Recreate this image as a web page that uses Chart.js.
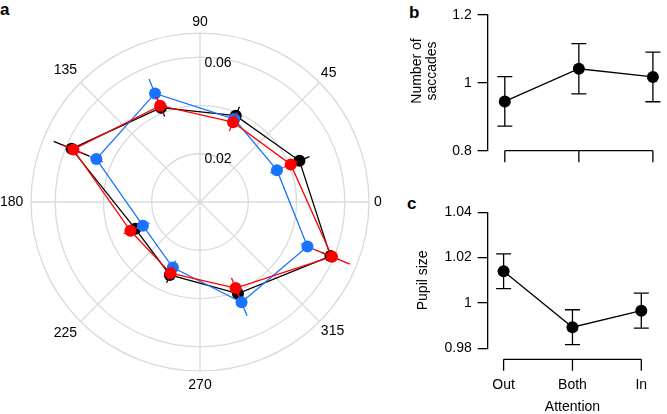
<!DOCTYPE html>
<html>
<head>
<meta charset="utf-8">
<script src="https://cdn.jsdelivr.net/npm/chart.js@4/dist/chart.umd.min.js"></script>
<style>
  html, body { margin: 0; padding: 0; background: #fff; overflow: hidden; }
  body { width: 667px; height: 414px; position: relative; font-family: 'Liberation Sans', Arial, sans-serif; }
  .letter { position: absolute; font-weight: bold; font-size: 17px; line-height: 17px; color: #000; }
  canvas { position: absolute; }
</style>
</head>
<body>
<div class="letter" style="left:0px;top:1px">a</div>
<div class="letter" style="left:409px;top:4px">b</div>
<div class="letter" style="left:407px;top:195px">c</div>

<canvas id="polar" width="400" height="404" style="left:-9px;top:2px"></canvas>
<canvas id="saccades" width="276" height="175" style="left:400px;top:0px"></canvas>
<canvas id="pupil" width="276" height="219" style="left:400px;top:195px"></canvas>

<script>
/* ── Data ─────────────────────────────────────────────── */

// panel a: saccade direction distribution (polar)
const ANGLE_TICKS = [0, 45, 90, 135, 180, 225, 270, 315];
const DIRECTIONS = [22.5, 67.5, 112.5, 157.5, 202.5, 247.5, 292.5, 337.5];
const RING_TICKS = [0, 0.02, 0.04, 0.06, 0.07];
const RING_LABELS = [0.02, 0.06];

const BLACK = [0.0446, 0.0387, 0.0423, 0.0576, 0.0290, 0.0327, 0.0411, 0.0585];
const BLACK_ERR = [0.0045, 0.004, 0.004, 0.008, 0.003, 0.0035, 0.004, 0.004];
const BLUE = [0.0345, 0.0372, 0.0487, 0.0465, 0.0256, 0.0294, 0.0450, 0.0482];
const BLUE_ERR = [0.003, 0.003, 0.0065, 0.003, 0.003, 0.003, 0.006, 0.003];
const RED = [0.0407, 0.0358, 0.0432, 0.0568, 0.0312, 0.0319, 0.0386, 0.0592];
const RED_ERR = [0.003, 0.004, 0.004, 0.005, 0.003, 0.003, 0.0045, 0.008];

// panels b and c
const CONDITIONS = ['Out', 'Both', 'In'];
const SACCADES = [0.945, 1.041, 1.017];
const SACCADES_ERR = [0.073, 0.074, 0.073];
const SACCADE_TICKS = [0.8, 1, 1.2];
const PUPIL = [1.014, 0.9893, 0.9966];
const PUPIL_ERR = [0.0077, 0.0077, 0.0077];
const PUPIL_TICKS = [0.98, 1, 1.02, 1.04];

/* ── Shared style ─────────────────────────────────────── */

const FONT = "'Liberation Sans', Arial, sans-serif";
const FS = 14;
Chart.defaults.font.family = FONT;
Chart.defaults.font.size = FS;
Chart.defaults.color = '#000';

const GRID = '#dadada';
const LW = 1.3;

/* ── Panel a: polar plot on a 16-slot radar ───────────── */

// ticks sit every 45 deg, data every 45 deg offset by 22.5 -> 16 slots, clockwise from 0
const SLOTS = 16;
const slotOf = a => Math.round(((360 - a) % 360) / 22.5) % SLOTS;
const slotLabels = Array(SLOTS).fill('');
ANGLE_TICKS.forEach(a => { slotLabels[slotOf(a)] = String(a); });

function toSlots(values) {
  const arr = Array(SLOTS).fill(null);
  DIRECTIONS.forEach((a, i) => { arr[slotOf(a)] = values[i]; });
  return arr;
}

const LABEL_PAD = { '0': 5, '45': 2, '90': 2.1, '135': 5, '180': 7.7, '225': 5, '270': 5.6, '315': 2 };

function polarSeries(values, errors, color, order) {
  return {
    data: toSlots(values),
    errors: toSlots(errors),
    borderColor: color,
    backgroundColor: color,
    pointBackgroundColor: color,
    pointBorderWidth: 0,
    pointRadius: 6,
    pointHoverRadius: 6,
    borderWidth: LW,
    spanGaps: true,
    fill: false,
    order
  };
}

const polarErrorBars = {
  id: 'polarErrorBars',
  afterDatasetDraw(chart, args) {
    const ds = chart.data.datasets[args.index];
    const scale = chart.scales.r;
    const ctx = chart.ctx;
    ctx.save();
    ctx.strokeStyle = ds.borderColor;
    ctx.lineWidth = LW;
    ds.data.forEach((v, i) => {
      if (v == null) return;
      const e = ds.errors[i];
      const p0 = scale.getPointPositionForValue(i, v - e);
      const p1 = scale.getPointPositionForValue(i, v + e);
      ctx.beginPath();
      ctx.moveTo(p0.x, p0.y);
      ctx.lineTo(p1.x, p1.y);
      ctx.stroke();
    });
    ctx.restore();
  }
};

// ring value labels sit just right of the 90 deg spoke
const ringLabels = {
  id: 'ringLabels',
  beforeDatasetsDraw(chart) {
    const s = chart.scales.r;
    const ctx = chart.ctx;
    ctx.save();
    ctx.font = FS + 'px ' + FONT;
    ctx.fillStyle = '#000';
    ctx.textAlign = 'center';
    ctx.textBaseline = 'middle';
    RING_LABELS.forEach(v => {
      const r = s.getDistanceFromCenterForValue(v);
      ctx.fillText(String(v), s.xCenter + 18, s.yCenter - r + 5.5);
    });
    ctx.restore();
  }
};

new Chart(document.getElementById('polar'), {
  type: 'radar',
  data: {
    labels: slotLabels,
    datasets: [
      polarSeries(BLACK, BLACK_ERR, '#000000', 2),
      polarSeries(BLUE, BLUE_ERR, '#1a73ff', 1),
      polarSeries(RED, RED_ERR, '#ff0000', 0)
    ]
  },
  options: {
    responsive: false,
    animation: false,
    events: [],
    plugins: { legend: { display: false }, tooltip: { enabled: false } },
    scales: {
      r: {
        min: 0,
        max: 0.07,
        startAngle: 90,
        afterBuildTicks: s => { s.ticks = RING_TICKS.map(v => ({ value: v })); },
        ticks: { display: false },
        grid: { circular: true, color: GRID, lineWidth: LW },
        angleLines: {
          color: GRID,
          lineWidth: ctx => (slotLabels[ctx.index] === '' ? 0 : LW)
        },
        pointLabels: {
          font: { size: FS },
          color: '#000',
          padding: ctx => LABEL_PAD[ctx.label] ?? 0
        }
      }
    }
  },
  plugins: [polarErrorBars, ringLabels]
});

/* ── Panels b and c: mean ± error, bracket x axis ─────── */

const capErrorBars = {
  id: 'capErrorBars',
  beforeDatasetsDraw(chart) {
    const ds = chart.data.datasets[0];
    const { x, y } = chart.scales;
    const ctx = chart.ctx;
    ctx.save();
    ctx.strokeStyle = '#000';
    ctx.lineWidth = LW;
    ds.data.forEach((pt, i) => {
      const e = ds.errors[i];
      const px = x.getPixelForValue(pt.x);
      const lo = y.getPixelForValue(pt.y - e);
      const hi = y.getPixelForValue(pt.y + e);
      ctx.beginPath();
      ctx.moveTo(px, lo); ctx.lineTo(px, hi);
      ctx.moveTo(px - 7.5, lo); ctx.lineTo(px + 7.5, lo);
      ctx.moveTo(px - 7.5, hi); ctx.lineTo(px + 7.5, hi);
      ctx.stroke();
    });
    ctx.restore();
  }
};

// x axis drawn as a bracket spanning first..last category, ticks pointing down
const bracketAxis = {
  id: 'bracketAxis',
  afterDraw(chart, args, opts) {
    const x = chart.scales.x;
    const ctx = chart.ctx;
    const y0 = chart.chartArea.bottom + opts.gap;
    const xs = x.ticks.map(t => x.getPixelForValue(t.value));
    ctx.save();
    ctx.strokeStyle = '#000';
    ctx.lineWidth = LW;
    ctx.beginPath();
    ctx.moveTo(xs[0], y0);
    ctx.lineTo(xs[xs.length - 1], y0);
    xs.forEach(px => { ctx.moveTo(px, y0); ctx.lineTo(px, y0 + opts.len); });
    ctx.stroke();
    ctx.restore();
  }
};

function errorChart(id, values, errors, yTicks, cfg) {
  return new Chart(document.getElementById(id), {
    type: 'line',
    data: {
      datasets: [{
        data: values.map((v, i) => ({ x: i, y: v })),
        errors,
        borderColor: '#000',
        backgroundColor: '#000',
        pointBackgroundColor: '#000',
        pointBorderWidth: 0,
        pointRadius: 6,
        pointHoverRadius: 6,
        borderWidth: LW,
        clip: false
      }]
    },
    options: {
      responsive: false,
      animation: false,
      events: [],
      layout: { padding: { top: cfg.top, right: 0, bottom: 0, left: 0 } },
      plugins: {
        legend: { display: false },
        tooltip: { enabled: false },
        bracketAxis: { gap: cfg.gap, len: 11.5 }
      },
      scales: {
        x: {
          type: 'linear',
          min: -0.231,
          max: 2.231,
          afterBuildTicks: s => { s.ticks = CONDITIONS.map((_, i) => ({ value: i })); },
          afterFit: s => { s.height = cfg.xHeight; },
          ticks: { display: cfg.xLabels, callback: v => CONDITIONS[v], padding: 28.3 },
          grid: { display: false, drawTicks: false },
          border: { display: false },
          title: {
            display: cfg.xLabels,
            text: 'Attention',
            font: { size: FS, lineHeight: 1 },
            padding: { top: 0, bottom: 0 }
          }
        },
        y: {
          min: yTicks[0],
          max: yTicks[yTicks.length - 1],
          afterBuildTicks: s => { s.ticks = yTicks.map(v => ({ value: v })); },
          afterFit: s => { s.width = 87.7; },
          ticks: { callback: v => String(v), padding: 6 },
          grid: { drawOnChartArea: false, tickLength: 10, color: '#000', lineWidth: LW },
          border: { color: '#000', width: LW },
          title: {
            display: true,
            text: cfg.yTitle,
            font: { size: FS, lineHeight: 1.07 },
            padding: { top: cfg.titlePad, bottom: 0 }
          }
        }
      }
    },
    plugins: [capErrorBars, bracketAxis]
  });
}

errorChart('saccades', SACCADES, SACCADES_ERR, SACCADE_TICKS, {
  top: 14.7, xHeight: 24.3, gap: 0, xLabels: false,
  yTitle: ['      Number of', '      saccades'], titlePad: 10
});

errorChart('pupil', PUPIL, PUPIL_ERR, PUPIL_TICKS, {
  top: 17.3, xHeight: 65.7, gap: 11, xLabels: true,
  yTitle: 'Pupil size', titlePad: 15.5
});
</script>
</body>
</html>
